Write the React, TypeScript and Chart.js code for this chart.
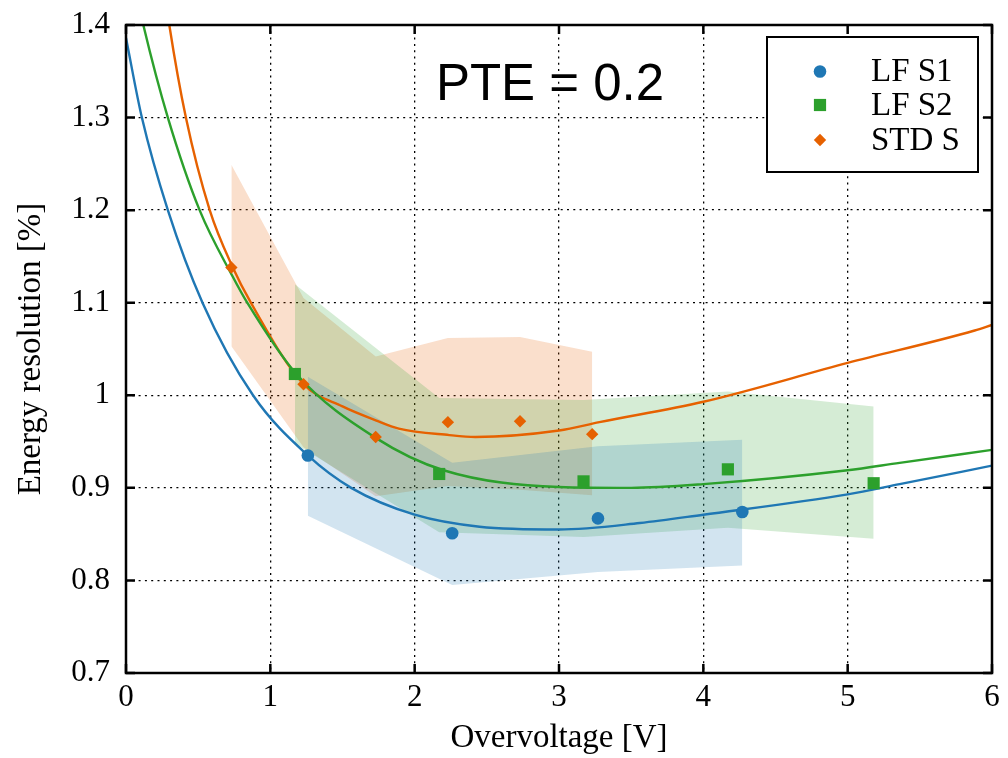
import React, { useEffect, useRef } from 'react';
import { Chart, registerables } from 'chart.js';

Chart.register(...registerables);

// ---- axis ticks ----
const xTicks = [0, 1, 2, 3, 4, 5, 6];
const yTicks = [0.7, 0.8, 0.9, 1.0, 1.1, 1.2, 1.3, 1.4];

// ---- series names ----
const seriesNames = ['LF S1', 'LF S2', 'STD S'];
const annotationText = 'PTE = 0.2';

// ---- LF S1 (blue) ----
const s1X = [1.26, 2.26, 3.27, 4.27];
const s1Y = [0.935, 0.851, 0.867, 0.874];
const s1Upper = [1.020, 0.927, 0.945, 0.952];
const s1Lower = [0.870, 0.795, 0.809, 0.816];
const s1FitX = [0, 0.11, 0.29, 0.53, 0.88, 1.26, 1.56, 2.0, 2.45, 3.0, 3.56, 4.0, 5.0, 5.36, 6.0];
const s1FitY = [1.386, 1.30, 1.20, 1.10, 1.00, 0.935, 0.900, 0.871, 0.858, 0.855, 0.862, 0.871, 0.893, 0.904, 0.924];

// ---- LF S2 (green) ----
const s2X = [1.17, 2.17, 3.17, 4.17, 5.18];
const s2Y = [1.023, 0.915, 0.907, 0.920, 0.905];
const s2Upper = [1.120, 0.997, 0.995, 1.004, 0.988];
const s2Lower = [0.948, 0.852, 0.847, 0.857, 0.845];
const s2FitX = [0.05, 0.12, 0.29, 0.51, 0.74, 0.84, 1.18, 1.73, 2.2, 3.0, 3.5, 4.0, 5.0, 5.36, 6.0];
const s2FitY = [1.45, 1.40, 1.30, 1.20, 1.128, 1.10, 1.023, 0.954, 0.919, 0.901, 0.900, 0.904, 0.919, 0.927, 0.941];

// ---- STD S (orange) ----
const s3X = [0.73, 1.23, 1.73, 2.23, 2.73, 3.23];
const s3Y = [1.138, 1.012, 0.955, 0.971, 0.972, 0.958];
const s3Upper = [1.249, 1.105, 1.042, 1.062, 1.063, 1.047];
const s3Lower = [1.053, 0.944, 0.891, 0.902, 0.898, 0.892];
const s3FitX = [0.26, 0.30, 0.415, 0.58, 0.74, 0.865, 1.23, 1.5, 1.73, 1.89, 2.24, 2.42, 3.0, 3.28, 4.0, 5.0, 5.88, 6.0];
const s3FitY = [1.445, 1.40, 1.30, 1.20, 1.138, 1.10, 1.012, 0.988, 0.973, 0.964, 0.957, 0.955, 0.962, 0.971, 0.993, 1.035, 1.070, 1.076];

// ---- styles ----
const BLUE = '#1f77b4';
const GREEN = '#2ca02c';
const ORANGE = '#e66100';
const BLUE_FILL = 'rgba(31,119,180,0.2)';
const GREEN_FILL = 'rgba(44,160,44,0.2)';
const ORANGE_FILL = 'rgba(230,97,0,0.2)';
const SERIF = '"Liberation Serif", "Times New Roman", serif';

const pts = (xs: number[], ys: number[]) => xs.map((x, i) => ({ x, y: ys[i] }));

function band(xs: number[], up: number[], lo: number[], fillColor: string) {
  return [
    {
      data: pts(xs, up), borderColor: 'rgba(0,0,0,0)', borderWidth: 0, pointRadius: 0,
      fill: '+1', backgroundColor: fillColor, order: 3, tension: 0,
    },
    {
      data: pts(xs, lo), borderColor: 'rgba(0,0,0,0)', borderWidth: 0, pointRadius: 0,
      fill: false, backgroundColor: fillColor, order: 3, tension: 0,
    },
  ];
}

function fit(xs: number[], ys: number[], color: string) {
  return {
    data: pts(xs, ys), borderColor: color, borderWidth: 2.4, pointRadius: 0,
    fill: false, order: 1, cubicInterpolationMode: 'monotone',
  };
}

function markers(xs: number[], ys: number[], color: string, style: string, r: number) {
  return {
    data: pts(xs, ys), showLine: false, pointStyle: style, pointRadius: r,
    pointBackgroundColor: color, pointBorderColor: color, pointBorderWidth: 0,
    borderColor: color, backgroundColor: color, fill: false, order: 0,
  };
}

function drawMarker(ctx: CanvasRenderingContext2D, kind: string, x: number, y: number, color: string) {
  ctx.fillStyle = color;
  ctx.beginPath();
  if (kind === 'circle') {
    ctx.arc(x, y, 6.3, 0, Math.PI * 2);
  } else if (kind === 'rect') {
    ctx.rect(x - 6.1, y - 6.1, 12.2, 12.2);
  } else {
    ctx.moveTo(x - 6.2, y); ctx.lineTo(x, y - 6.2); ctx.lineTo(x + 6.2, y); ctx.lineTo(x, y + 6.2); ctx.closePath();
  }
  ctx.fill();
}

const overlay = {
  id: 'overlay',
  afterDraw(chart: any) {
    const { ctx, chartArea: a, scales } = chart;
    const xs = scales.x, ys = scales.y;
    ctx.save();
    ctx.setLineDash([]);
    ctx.strokeStyle = '#000';
    ctx.lineWidth = 2.5;
    ctx.beginPath();
    xTicks.forEach((v) => {
      const p = xs.getPixelForValue(v);
      ctx.moveTo(p, a.bottom); ctx.lineTo(p, a.bottom - 9);
      ctx.moveTo(p, a.top); ctx.lineTo(p, a.top + 9);
    });
    yTicks.forEach((v) => {
      const p = ys.getPixelForValue(v);
      ctx.moveTo(a.left, p); ctx.lineTo(a.left + 9, p);
      ctx.moveTo(a.right, p); ctx.lineTo(a.right - 9, p);
    });
    ctx.stroke();
    ctx.strokeRect(a.left, a.top, a.right - a.left, a.bottom - a.top);

    // annotation
    ctx.fillStyle = '#000';
    ctx.font = '51px "Liberation Sans", Arial, sans-serif';
    ctx.textAlign = 'center';
    ctx.textBaseline = 'alphabetic';
    ctx.fillText(annotationText, a.left + 424, a.top + 75);

    // legend
    const lx = a.right - 225, ly = a.top + 12, lw = 211, lh = 135;
    ctx.fillStyle = '#fff';
    ctx.fillRect(lx, ly, lw, lh);
    ctx.lineWidth = 2;
    ctx.strokeStyle = '#000';
    ctx.strokeRect(lx, ly, lw, lh);
    const kinds = ['circle', 'rect', 'diamond'];
    const colors = [BLUE, GREEN, ORANGE];
    const rows = [34.5, 68, 103];
    seriesNames.forEach((name, i) => {
      drawMarker(ctx, kinds[i], lx + 53, ly + rows[i], colors[i]);
      ctx.fillStyle = '#000';
      ctx.font = `33px ${SERIF}`;
      ctx.textAlign = 'left';
      ctx.textBaseline = 'middle';
      ctx.fillText(name, lx + 104, ly + rows[i] + 1);
    });
    ctx.restore();
  },
};

export default function App() {
  const ref = useRef<HTMLCanvasElement>(null);
  useEffect(() => {
    document.body.style.margin = '0';
    const canvas = ref.current;
    if (!canvas) return;
    const chart = new Chart(canvas, {
      type: 'line',
      data: {
        datasets: [
          ...band(s1X, s1Upper, s1Lower, BLUE_FILL),
          ...band(s2X, s2Upper, s2Lower, GREEN_FILL),
          ...band(s3X, s3Upper, s3Lower, ORANGE_FILL),
          fit(s1FitX, s1FitY, BLUE),
          fit(s2FitX, s2FitY, GREEN),
          fit(s3FitX, s3FitY, ORANGE),
          markers(s1X, s1Y, BLUE, 'circle', 6.3),
          markers(s2X, s2Y, GREEN, 'rect', 8.6),
          markers(s3X, s3Y, ORANGE, 'rectRot', 6.2),
        ] as any,
      },
      options: {
        responsive: false,
        animation: false,
        devicePixelRatio: 1,
        layout: { padding: { left: 0, right: 16, top: 25, bottom: 0 } },
        plugins: { legend: { display: false }, tooltip: { enabled: false } },
        scales: {
          x: {
            type: 'linear',
            min: 0,
            max: 6,
            afterBuildTicks: (s: any) => { s.ticks = xTicks.map((value) => ({ value })); },
            afterFit: (s: any) => { s.height = 85; s.paddingLeft = 0; s.paddingRight = 0; },
            ticks: {
              color: '#000',
              font: { family: SERIF, size: 31 },
              padding: 6,
              callback: (v: any) => String(v),
              maxRotation: 0,
            },
            grid: { color: '#000', lineWidth: 1.3, drawTicks: false },
            border: { display: false, dash: [2, 4.3] },
            title: {
              display: true,
              text: 'Overvoltage [V]',
              color: '#000',
              font: { family: SERIF, size: 33 },
              padding: { top: 0, bottom: 0 },
            },
          },
          y: {
            type: 'linear',
            min: 0.7,
            max: 1.4,
            afterBuildTicks: (s: any) => { s.ticks = yTicks.map((value) => ({ value })); },
            afterFit: (s: any) => { s.width = 126; s.paddingTop = 0; s.paddingBottom = 0; },
            ticks: {
              color: '#000',
              font: { family: SERIF, size: 31 },
              padding: 16,
              callback: (v: any) => String(Math.round(Number(v) * 10) / 10),
            },
            grid: { color: '#000', lineWidth: 1.3, drawTicks: false },
            border: { display: false, dash: [2, 4.3] },
            title: {
              display: true,
              text: 'Energy resolution [%]',
              color: '#000',
              font: { family: SERIF, size: 33 },
              padding: { top: 12, bottom: 0 },
            },
          },
        },
      } as any,
      plugins: [overlay],
    });
    return () => chart.destroy();
  }, []);
  return (
    <div style={{ width: 1008, height: 758 }}>
      <canvas ref={ref} width={1008} height={758} style={{ display: 'block' }} />
    </div>
  );
}
